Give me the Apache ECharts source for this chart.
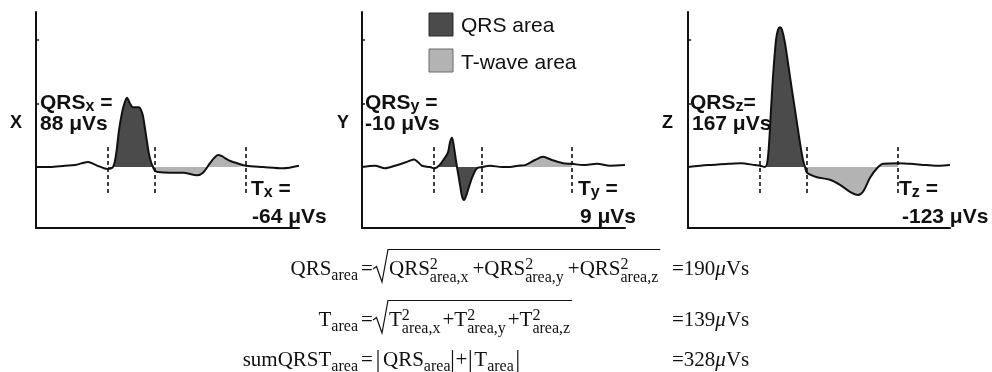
<!DOCTYPE html>
<html>
<head>
<meta charset="utf-8">
<script src="https://cdn.jsdelivr.net/npm/echarts@6/dist/echarts.min.js"></script>
<style>
  html, body { margin: 0; padding: 0; background: #fff; }
  #chart { width: 992px; height: 372px; }
</style>
</head>
<body>
<div id="chart"></div>
<script>
// Orthogonal leads of one averaged beat: [time (ms), amplitude (mV)]
const leadNames = ['X', 'Y', 'Z'];
const leadX = [
  [0, 0], [28, 0], [58, 0.02], [78, 0.03], [104, 0.08], [120, 0.03], [136, -0.02], [144, -0.03],
  [154, 0], [160, 0.19], [166, 0.58], [172, 0.85], [176, 0.98], [182, 1.09], [188, 1.0], [194, 0.94],
  [200, 0.94], [206, 0.94], [210, 0.90], [214, 0.80], [220, 0.50], [226, 0.20], [230, 0.08], [234, 0],
  [238, -0.06], [244, -0.08], [268, -0.09], [294, -0.09], [322, -0.13], [334, -0.09], [348, 0.06],
  [356, 0.14], [364, 0.19], [372, 0.17], [378, 0.14], [390, 0.09], [402, 0.06], [420, 0.02], [454, 0],
  [494, -0.02], [526, 0.02]
];
const leadY = [
  [0, 0], [26, 0.02], [46, -0.02], [66, 0.02], [86, 0.07], [104, 0.12], [120, 0.02], [136, 0], [144, -0.02],
  [154, 0.02], [166, 0.15], [172, 0.23], [176, 0.39], [180, 0.46], [184, 0.31], [188, 0.10], [190, 0],
  [196, -0.28], [200, -0.46], [204, -0.52], [210, -0.41], [220, -0.17], [230, -0.02], [240, 0],
  [256, 0.02], [280, 0], [296, 0], [312, 0.02], [326, 0.03], [346, 0.11], [362, 0.16], [380, 0.11],
  [402, 0.06], [420, 0.05], [442, 0.03], [470, 0.05], [496, 0.02], [526, 0.03]
];
const leadZ = [
  [0, 0], [40, 0.03], [80, 0.05], [106, 0.06], [134, 0.03], [144, 0.02], [154, 0], [160, 0.16], [166, 0.90],
  [170, 1.42], [176, 2.0], [180, 2.16], [184, 2.20], [188, 2.16], [194, 1.95], [204, 1.42], [214, 0.90],
  [224, 0.38], [230, 0.11], [234, 0], [238, -0.09], [258, -0.16], [284, -0.20], [304, -0.28], [324, -0.39],
  [340, -0.44], [350, -0.39], [364, -0.17], [378, -0.02], [390, 0.05], [420, 0.06], [444, 0.05],
  [478, 0.03], [504, 0.02], [524, 0.03]
];
// QRS onset, QRS end / T start, T end (ms)
const boundsX = [144, 238, 420];
const boundsY = [144, 240, 420];
const boundsZ = [144, 238, 420];
// Integrated areas per lead (µVs) and spatial results
const qrsAreas = [88, -10, 167];
const tAreas = [-64, 9, -123];
const spatialTotals = [190, 139, 328];
const legendLabels = ['QRS area', 'T-wave area'];

const leads = [leadX, leadY, leadZ];
const bounds = [boundsX, boundsY, boundsZ];

const INK = '#111';
const QRS_FILL = '#4b4b4b';
const T_FILL = '#b3b3b3';

// panel geometry
const panelLeft = [36, 362, 688];
const panelWidth = [263, 263, 262];
const panelTop = 12, panelHeight = 216;
const tMax = [526, 526, 524];
const vMin = -0.96, vMax = 2.44;
const markTop = 0.315, markBottom = -0.41;

const grids = [], xAxes = [], yAxes = [], series = [];
leads.forEach((lead, i) => {
  grids.push({ left: panelLeft[i], top: panelTop, width: panelWidth[i], height: panelHeight });
  xAxes.push({
    type: 'value', gridIndex: i, min: 0, max: tMax[i],
    axisLine: { show: true, onZero: false, lineStyle: { color: INK, width: 2 } },
    axisTick: { show: false }, axisLabel: { show: false }, splitLine: { show: false }
  });
  yAxes.push({
    type: 'value', gridIndex: i, min: vMin, max: vMax,
    axisLine: { show: true, onZero: false, lineStyle: { color: INK, width: 2 } },
    axisTick: { show: true, inside: true, length: 3, customValues: [1, 2], lineStyle: { color: INK, width: 1.5 } },
    axisLabel: { show: false }, splitLine: { show: false }
  });
  const b = bounds[i];
  const common = {
    type: 'line', xAxisIndex: i, yAxisIndex: i, smooth: 0.3, symbol: 'none',
    silent: true, animation: false
  };
  series.push(Object.assign({}, common, {
    name: legendLabels[0] + ' ' + leadNames[i],
    data: lead.filter(p => p[0] >= b[0] && p[0] <= b[1]),
    lineStyle: { width: 0, opacity: 0 },
    areaStyle: { color: QRS_FILL, opacity: 1 },
    z: 1
  }));
  series.push(Object.assign({}, common, {
    name: legendLabels[1] + ' ' + leadNames[i],
    data: lead.filter(p => p[0] >= b[1] && p[0] <= b[2]),
    lineStyle: { width: 0, opacity: 0 },
    areaStyle: { color: T_FILL, opacity: 1 },
    z: 1
  }));
  series.push(Object.assign({}, common, {
    name: leadNames[i],
    data: lead,
    lineStyle: { color: INK, width: 2 },
    z: 3,
    markLine: {
      silent: true, symbol: 'none', animation: false,
      label: { show: false },
      lineStyle: { color: INK, width: 1.6, type: [4, 3] },
      data: b.map(t => [{ coord: [t, markTop] }, { coord: [t, markBottom] }])
    }
  }));
});

// ---- text layout helpers ----
const measureCtx = document.createElement('canvas').getContext('2d');
function textWidth(str, font) { measureCtx.font = font; return measureCtx.measureText(str).width; }
const sansB = s => 'bold ' + s + 'px "Liberation Sans"';
const sans = s => s + 'px "Liberation Sans"';
const serif = (s, it) => (it ? 'italic ' : '') + s + 'px "Liberation Serif"';
const SANS_K = 0.3465, SERIF_K = 0.3375;

const els = [];
// draws a string whose baseline sits at `base`; returns the x where it ends
function put(x, base, str, font, size, k) {
  els.push({
    type: 'text', silent: true, z: 20,
    style: {
      text: str, x: x, y: base - k * size, font: font, fill: INK,
      align: 'left', verticalAlign: 'middle', textAlign: 'left', textVerticalAlign: 'middle'
    }
  });
  return x + textWidth(str, font);
}
function sPut(x, base, str, size, bold) {
  return put(x, base, str, bold ? sansB(size) : sans(size), size, SANS_K);
}
function rPut(x, base, str, size, italic) {
  return put(x, base, str, serif(size, italic), size, SERIF_K);
}

// lead letters and area annotations
const nameX = [10, 337, 662];
const qrsLabelX = [40, 365, 690], qrsValueX = [40, 365, 692];
const tLabelX = [251, 578, 899], tValueX = [252, 580, 902];
const qrsEq = [' =', ' =', '='];
leadNames.forEach((n, i) => {
  sPut(nameX[i], 129, n, 18, true);
  let x = sPut(qrsLabelX[i], 110, 'QRS', 21, true);
  x = sPut(x, 112, n.toLowerCase(), 16, true);
  sPut(x, 110, qrsEq[i], 21, true);
  sPut(qrsValueX[i], 131, qrsAreas[i] + ' \u03bcVs', 21, true);
  x = sPut(tLabelX[i], 196, 'T', 21, true);
  x = sPut(x, 198, n.toLowerCase(), 16, true);
  sPut(x, 196, ' =', 21, true);
  sPut(tValueX[i], 224, tAreas[i] + ' \u03bcVs', 21, true);
});

// legend
els.push({ type: 'rect', silent: true, z: 20, shape: { x: 429, y: 13, width: 24, height: 23 },
  style: { fill: QRS_FILL, stroke: '#2a2a2a', lineWidth: 1 } });
els.push({ type: 'rect', silent: true, z: 20, shape: { x: 429, y: 49, width: 24, height: 23 },
  style: { fill: T_FILL, stroke: '#6a6a6a', lineWidth: 1 } });
sPut(461, 33, legendLabels[0], 21, false);
sPut(461, 70, legendLabels[1], 21, false);

// ---- formulas ----
const EQ_X = 361, RES_X = 672;
const rowBase = [277, 328, 368];
function lhs(base, main, sub) {
  const w = textWidth(main, serif(21)) + textWidth(sub, serif(16));
  let x = EQ_X - 3 - w;
  x = rPut(x, base, main, 21);
  rPut(x, base + 4, sub, 16);
  rPut(EQ_X, base, '=', 21);
}
function stack(x, base, sup, sub) {
  const a = rPut(x, base - 7, sup, 16);
  const b = rPut(x, base + 6, sub, 16);
  return Math.max(a, b);
}
function radical(x0, base, xEnd) {
  els.push({ type: 'polyline', silent: true, z: 20,
    shape: { points: [[x0, base - 8], [x0 + 3.5, base - 10.5], [x0 + 9, base + 5], [x0 + 15, base - 27.5], [xEnd, base - 27.5]] },
    style: { stroke: INK, lineWidth: 1.2, fill: null } });
}
function bar(x, base) {
  els.push({ type: 'line', silent: true, z: 20,
    shape: { x1: x, y1: base - 18, x2: x, y2: base + 6 },
    style: { stroke: INK, lineWidth: 1.2 } });
}
function sumOfSquares(base, sym, gap) {
  let x = 389;
  ['x', 'y', 'z'].forEach((c, j) => {
    if (j > 0) x += gap;
    x = rPut(x, base, (j ? '+' : '') + sym, 21);
    x = stack(x, base, '2', 'area,' + c);
  });
  radical(373, base, x + 2);
}
function result(base, value) {
  let x = rPut(RES_X, base, '=' + value, 21);
  x = rPut(x, base, '\u03bc', 21, true);
  rPut(x, base, 'Vs', 21);
}

lhs(rowBase[0], 'QRS', 'area');
sumOfSquares(rowBase[0], 'QRS', 4);
result(rowBase[0], spatialTotals[0]);

lhs(rowBase[1], 'T', 'area');
sumOfSquares(rowBase[1], 'T', 2);
result(rowBase[1], spatialTotals[1]);

lhs(rowBase[2], 'sumQRST', 'area');
(function absSum(base) {
  let x = 378;
  bar(x, base); x += 5;
  x = rPut(x, base, 'QRS', 21);
  x = rPut(x, base + 4, 'area', 16);
  x += 2; bar(x, base); x += 3;
  x = rPut(x, base, '+', 21);
  x += 3; bar(x, base); x += 4;
  x = rPut(x, base, 'T', 21);
  x = rPut(x, base + 4, 'area', 16);
  x += 4; bar(x, base);
})(rowBase[2]);
result(rowBase[2], spatialTotals[2]);

const chart = echarts.init(document.getElementById('chart'), null, { renderer: 'canvas' });
chart.setOption({
  animation: false,
  backgroundColor: '#fff',
  grid: grids,
  xAxis: xAxes,
  yAxis: yAxes,
  series: series,
  graphic: { elements: els }
});
</script>
</body>
</html>
